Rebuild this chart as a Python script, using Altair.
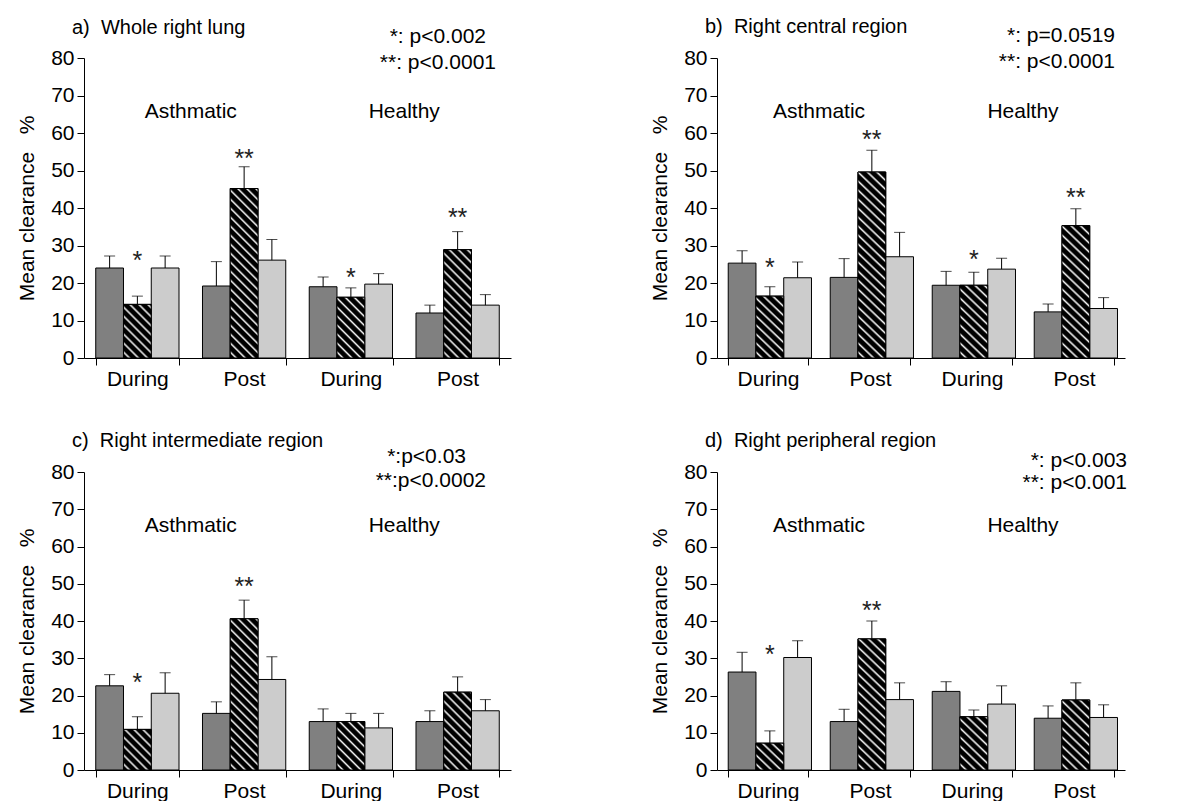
import altair as alt
import pandas as pd

FONT = "Liberation Sans, Arial, sans-serif"
DARK = "#808080"
LIGHT = "#cccccc"

groups = ["A|During", "A|Post", "H|During", "H|Post"]
series = ["dark", "hatch", "light"]

# ---- panel a: Whole right lung
a_dark = [24.0, 19.2, 19.0, 12.0]
a_hatch = [14.3, 45.2, 16.2, 28.9]
a_light = [24.0, 26.1, 19.7, 14.1]
a_dark_top = [27.2, 25.7, 21.6, 14.1]
a_hatch_top = [16.5, 51.0, 18.7, 33.7]
a_light_top = [27.2, 31.6, 22.5, 16.9]
a_stars = ["*", "**", "*", "**"]
a_star_y = [27.6, 54.8, 23.2, 39.0]

# ---- panel b: Right central region
b_dark = [25.3, 21.5, 19.4, 12.3]
b_hatch = [16.5, 49.6, 19.4, 35.3]
b_light = [21.4, 27.0, 23.7, 13.2]
b_dark_top = [28.6, 26.5, 23.1, 14.4]
b_hatch_top = [19.0, 55.4, 22.9, 39.8]
b_light_top = [25.6, 33.5, 26.6, 16.1]
b_stars = ["*", "**", "*", "**"]
b_star_y = [25.7, 59.9, 27.8, 44.4]

# ---- panel c: Right intermediate region
c_dark = [22.6, 15.2, 13.0, 13.0]
c_hatch = [10.9, 40.6, 13.0, 20.9]
c_light = [20.6, 24.3, 11.3, 15.9]
c_dark_top = [25.6, 18.3, 16.4, 15.9]
c_hatch_top = [14.3, 45.6, 15.2, 25.0]
c_light_top = [26.1, 30.4, 15.2, 18.9]
c_stars = ["*", "**", "", ""]
c_star_y = [25.2, 50.8, 0, 0]

# ---- panel d: Right peripheral region
d_dark = [26.3, 13.0, 21.1, 13.9]
d_hatch = [7.2, 35.2, 14.3, 18.8]
d_light = [30.2, 18.9, 17.7, 14.1]
d_dark_top = [31.6, 16.3, 23.7, 17.2]
d_hatch_top = [10.5, 40.0, 16.1, 23.4]
d_light_top = [34.7, 23.4, 22.6, 17.5]
d_stars = ["*", "**", "", ""]
d_star_y = [32.6, 44.3, 0, 0]

titles = ["a)\u00a0\u00a0Whole right lung", "b)\u00a0\u00a0Right central region",
          "c)\u00a0\u00a0Right intermediate region", "d)\u00a0\u00a0Right peripheral region"]
notes = [["*: p<0.002", "**: p<0.0001"], ["*: p=0.0519", "**: p<0.0001"],
         ["*:p<0.03", "**:p<0.0002"], ["*: p<0.003", "**: p<0.001"]]
group_labels = ["Asthmatic", "Healthy"]
YTITLE = "Mean clearance\u00a0\u00a0\u00a0%"
FS = 21
TFS = 20


def hatch_gradient(w, h, period=9.0):
    a = (w + h) / (w * w + h * h)
    span = w + h
    stops = []
    k = 0
    while k * period < span:
        base = k * period / span
        for frac, col in [(0.0, "#000000"), (0.42, "#000000"), (0.66, "#f4f4f4"), (0.9, "#000000")]:
            off = base + frac * period / span
            if off <= 1.0:
                stops.append(alt.GradientStop(offset=round(off, 5), color=col))
        k += 1
    return alt.LinearGradient(gradient="linear", stops=stops, x1=0, y1=1,
                              x2=round(a * w, 5), y2=round(1 - a * h, 5))


def ychan(field):
    return alt.Y(field, scale=alt.Scale(domain=[0, 80], nice=False),
                 axis=alt.Axis(values=list(range(0, 81, 10)), title=YTITLE, grid=False,
                               tickSize=7, labelPadding=3, titlePadding=13,
                               labelFontSize=FS, titleFontSize=FS, titleFontWeight="normal"))


def panel(idx, W, H, dark, hatch, light, dtop, htop, ltop, stars, star_y, textpos):
    rows = []
    for gi, g in enumerate(groups):
        for s, vals, tops in zip(series, [dark, hatch, light], [dtop, htop, ltop]):
            rows.append({"group": g, "series": s, "value": vals[gi], "top": tops[gi]})
    df = pd.DataFrame(rows)
    x = alt.X("group:N", sort=groups, title=None,
              scale=alt.Scale(paddingInner=0.22, paddingOuter=0.11),
              axis=alt.Axis(labelExpr="split(datum.value, '|')[1]", tickBand="extent",
                            labelAngle=0, tickSize=7, labelPadding=3, labelFontSize=FS))
    xo = alt.XOffset("series:N", sort=series, scale=alt.Scale(paddingInner=0, paddingOuter=0))
    base = alt.Chart(df)
    layers = [base.mark_bar(stroke="black", strokeWidth=1).encode(
        x=x, xOffset=xo, y=ychan("value:Q"),
        fill=alt.Fill("series:N", scale=alt.Scale(domain=series, range=[DARK, "#000000", LIGHT]), legend=None))]
    bw = W / 4 * 0.78 / 3
    for gi, g in enumerate(groups):
        h = hatch[gi] / 80 * H
        layers.append(base.transform_filter(
            (alt.datum.group == g) & (alt.datum.series == "hatch")
        ).mark_bar(fill=hatch_gradient(bw, h), stroke="black", strokeWidth=1).encode(
            x=x, xOffset=xo, y=ychan("value:Q")))
    layers.append(base.mark_rule(color="black", strokeWidth=1).encode(
        x=x, xOffset=xo, y=ychan("value:Q"), y2="top:Q"))
    layers.append(base.mark_tick(color="black", thickness=1, size=11).encode(
        x=x, xOffset=xo, y=ychan("top:Q")))
    sdf = pd.DataFrame({"group": groups, "series": ["hatch"] * 4, "sy": star_y, "txt": stars})
    sdf = sdf[sdf["txt"] != ""]
    layers.append(alt.Chart(sdf).mark_text(fontSize=25, baseline="alphabetic", dy=14.5, color="#222").encode(
        x=x, xOffset=xo, y=ychan("sy:Q"), text="txt:N"))
    # texts
    (tx, ty), (n1x, n1y), (n2x, n2y), gy = textpos
    tdf = pd.DataFrame({"t": [titles[idx]]})
    layers.append(alt.Chart(tdf).mark_text(align="left", baseline="alphabetic", fontSize=TFS).encode(
        text="t:N", x=alt.value(tx), y=alt.value(ty)))
    n1 = pd.DataFrame({"t": [notes[idx][0]]})
    layers.append(alt.Chart(n1).mark_text(align="right", baseline="alphabetic", fontSize=FS).encode(
        text="t:N", x=alt.value(n1x), y=alt.value(n1y)))
    n2 = pd.DataFrame({"t": [notes[idx][1]]})
    layers.append(alt.Chart(n2).mark_text(align="right", baseline="alphabetic", fontSize=FS).encode(
        text="t:N", x=alt.value(n2x), y=alt.value(n2y)))
    for k, lab in enumerate(group_labels):
        ldf = pd.DataFrame({"t": [lab]})
        layers.append(alt.Chart(ldf).mark_text(align="center", baseline="alphabetic", fontSize=FS).encode(
            text="t:N", x=alt.value(W * (0.25 + 0.5 * k)), y=alt.value(gy)))
    return alt.layer(*layers).properties(width=W, height=H)


pa = panel(0, 427, 300, a_dark, a_hatch, a_light, a_dark_top, a_hatch_top, a_light_top,
           a_stars, a_star_y, ((-12, -24), (402, -15), (412, 11), 60))
pb = panel(1, 408, 300, b_dark, b_hatch, b_light, b_dark_top, b_hatch_top, b_light_top,
           b_stars, b_star_y, ((-12, -25), (398, -16), (398, 10), 60))
pc = panel(2, 427, 298, c_dark, c_hatch, c_light, c_dark_top, c_hatch_top, c_light_top,
           c_stars, c_star_y, ((-12, -25), (382, -9), (402, 15), 60))
pd_ = panel(3, 408, 298, d_dark, d_hatch, d_light, d_dark_top, d_hatch_top, d_light_top,
            d_stars, d_star_y, ((-12, -25), (410, -5), (410, 17), 60))

chart = alt.vconcat(
    alt.hconcat(pa, pb, spacing=138),
    alt.hconcat(pc, pd_, spacing=138),
    spacing=42,
).properties(
    padding={"left": 16, "top": 17, "right": 0, "bottom": 0}
).configure_view(stroke=None).configure_axis(
    labelFont=FONT, titleFont=FONT, labelColor="black", titleColor="black",
    domainColor="black", tickColor="black", domainWidth=1, tickWidth=1
).configure_text(font=FONT, color="black")

chart.save("out.html", embed_options={"renderer": "svg", "actions": False})
